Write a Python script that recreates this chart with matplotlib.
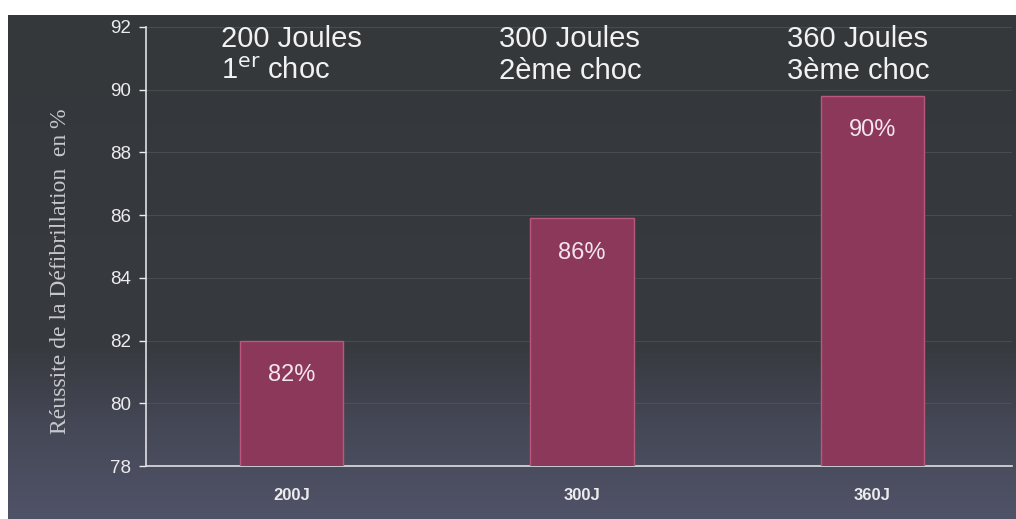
import numpy as np
import matplotlib
matplotlib.use("Agg")
import matplotlib.pyplot as plt
from matplotlib.colors import LinearSegmentedColormap

# --- données ---
categories = ["200J", "300J", "360J"]
reussite = [82.0, 85.9, 89.8]
etiquettes = ["82%", "86%", "90%"]
titres = ["200 Joules\n1$^{\\mathrm{er}}$ choc", "300 Joules\n2ème choc", "360 Joules\n3ème choc"]
yticks = [78, 80, 82, 84, 86, 88, 90, 92]

fig = plt.figure(figsize=(10.16, 5.19), dpi=100, facecolor="white")

# fond sombre avec dégradé (scan)
bg = fig.add_axes([0.008, 0.0, 0.992, 0.972])
grad = np.linspace(0, 1, 256).reshape(-1, 1)
cmap_bg = LinearSegmentedColormap.from_list(
    "bg", [(0, "#34383b"), (0.66, "#373a3f"), (0.82, "#454856"), (1, "#505368")])
bg.imshow(grad, aspect="auto", cmap=cmap_bg, extent=[0, 1, 0, 1], origin="upper")
bg.set_axis_off()

ax = fig.add_axes([0.1437, 0.1021, 0.8524, 0.846])
ax.patch.set_alpha(0)

x = np.arange(len(categories))
bars = ax.bar(x, reussite, width=0.355, bottom=0, color="#8c385a",
              edgecolor="#b9587a", linewidth=1.0, zorder=3)

ax.set_ylim(78, 92)
ax.set_xlim(-0.5, 2.48)
ax.set_yticks(yticks)
ax.set_xticks(x)
ax.set_xticklabels(categories, fontweight="bold", family="Liberation Sans")
ax.tick_params(axis="y", colors="#ececee", labelsize=13.5, length=5, width=1, pad=6)
ax.tick_params(axis="x", colors="#ececee", labelsize=12, length=0, pad=16)
for lab in ax.get_yticklabels():
    lab.set_family("Liberation Sans")

ax.grid(axis="y", color="#60646a", linewidth=0.8, alpha=0.45, zorder=0)
for side in ["top", "right"]:
    ax.spines[side].set_visible(False)
for side in ["left", "bottom"]:
    ax.spines[side].set_color("#e0e0e4")
    ax.spines[side].set_linewidth(1.2)

for xi, v, lab in zip(x, reussite, etiquettes):
    ax.text(xi, v - 1.1, lab, ha="center", va="center", fontsize=17,
            color="#f3e4ee", family="Liberation Sans", zorder=4)

decalage = [0.0, -0.04, -0.05]
for xi, t, d in zip(x, titres, decalage):
    ax.text(xi + d, 92.05, t, ha="center", va="top", fontsize=21,
            linespacing=1.15, multialignment="left",
            color="#f2f2f2", family="Liberation Sans", zorder=4)

ax.set_ylabel("Réussite de la Défibrillation  en %", family="Liberation Serif",
              fontsize=17, color="#c8c8cc")
ax.yaxis.set_label_coords(-0.087, 0.444)

fig.savefig("out.png", dpi=100, facecolor=fig.get_facecolor())
